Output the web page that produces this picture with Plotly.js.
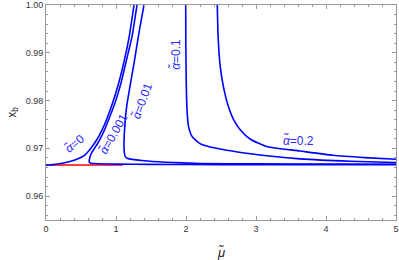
<!DOCTYPE html>
<html>
<head>
<meta charset="utf-8">
<script src="https://cdn.plot.ly/plotly-3.0.1.min.js"></script>
<style>html,body{margin:0;padding:0;background:#fff;}#chart{width:399px;height:260px;}</style>
</head>
<body>
<div id="chart"></div>
<script>
// ---- data ----
const mu_a0     = [0, 0.1, 0.23, 0.34, 0.44, 0.55, 0.63, 0.73, 0.80, 0.87, 0.94, 1.03, 1.12, 1.19, 1.257];
const xb_a0     = [0.96652, 0.9666, 0.96688, 0.96725, 0.9677, 0.96854, 0.9698, 0.9719, 0.9738, 0.9762, 0.9790, 0.9832, 0.9885, 0.9935, 1.0];

const mu_a0001  = [1.30, 1.23, 1.15, 1.07, 0.99, 0.914, 0.84, 0.771, 0.71, 0.653, 0.625, 0.619, 0.64, 0.7, 1.0, 1.5, 2, 3, 5];
const xb_a0001  = [1.0, 0.9935, 0.9885, 0.9836, 0.9797, 0.9767, 0.9740, 0.9719, 0.9704, 0.9691, 0.9680, 0.9671, 0.96690, 0.96682, 0.96670, 0.96664, 0.96661, 0.96659, 0.96658];

const mu_a001   = [1.40, 1.36, 1.32, 1.26, 1.20, 1.15, 1.125, 1.114, 1.12, 1.129, 1.15, 1.176, 1.4, 1.7, 2.2, 3, 4, 5];
const xb_a001   = [1.0, 0.9968, 0.9935, 0.9880, 0.9830, 0.9785, 0.9745, 0.9705, 0.9690, 0.96840, 0.96800, 0.96785, 0.9674, 0.9671, 0.96684, 0.96674, 0.96669, 0.96666];

const mu_a01    = [1.996, 1.997, 2.003, 2.014, 2.036, 2.086, 2.2, 2.271, 2.486, 2.714, 3.157, 3.629, 4.343, 5.0];
const xb_a01    = [1.0, 0.99271, 0.98438, 0.97813, 0.97458, 0.97250, 0.9710, 0.97060, 0.96985, 0.96930, 0.96844, 0.96780, 0.96729, 0.96702];

const mu_a02    = [2.447, 2.46, 2.49, 2.54, 2.60, 2.68, 2.78, 2.92, 3.15, 3.629, 4.1, 4.557, 5.0];
const xb_a02    = [1.0, 0.9930, 0.9870, 0.9825, 0.9790, 0.9760, 0.9738, 0.9719, 0.9704, 0.96944, 0.96854, 0.96806, 0.96771];

const mu_red    = [0, 1.1];
const xb_red    = [0.96652, 0.96652];

const labelText = ['<i>α̃</i>=0', '<i>α̃</i>=0.001', '<i>α̃</i>=0.01', '<i>α̃</i>=0.1', '<i>α̃</i>=0.2'];
const labelMu   = [0.40, 0.96, 1.37, 1.857, 3.60];
const labelXb   = [0.97104, 0.97310, 0.9800, 0.98979, 0.97167];
const labelRot  = [-40, -60, -70, -90, 0];

const xTicks = [0, 1, 2, 3, 4, 5];
const yTicks = [0.96, 0.97, 0.98, 0.99, 1.00];

// ---- chart ----
const FONT = 'Liberation Sans, Arial, sans-serif';
const BLUE = '#0000ff';
const lineStyle = {color: BLUE, width: 1.6, shape: 'spline', smoothing: 0.6};
const traces = [
  {x: mu_red, y: xb_red, mode: 'lines', line: {color: '#ff0000', width: 1.6}, hoverinfo: 'skip'},
  {x: mu_a0, y: xb_a0, mode: 'lines', line: lineStyle},
  {x: mu_a0001, y: xb_a0001, mode: 'lines', line: lineStyle},
  {x: mu_a001, y: xb_a001, mode: 'lines', line: lineStyle},
  {x: mu_a01, y: xb_a01, mode: 'lines', line: lineStyle},
  {x: mu_a02, y: xb_a02, mode: 'lines', line: lineStyle}
];

const annotations = labelText.map((t, i) => ({
  x: labelMu[i], y: labelXb[i], xref: 'x', yref: 'y', text: t, showarrow: false,
  textangle: labelRot[i], font: {family: FONT, size: 12, color: '#2a2aff'}
}));
// x-axis title placed as paper annotation for exact position
annotations.push({
  x: 0.5, y: -0.149, xref: 'paper', yref: 'paper', text: '<i>μ̃</i>', showarrow: false,
  xanchor: 'center', yanchor: 'middle', font: {family: FONT, size: 13, color: '#222'}
});

const axisCommon = {
  showgrid: false, zeroline: false, showline: true, linecolor: '#999', linewidth: 1,
  mirror: 'ticks', ticks: 'inside', ticklen: 4, tickcolor: '#999', tickwidth: 1,
  tickfont: {family: FONT, size: 9, color: '#333'},
  automargin: false
};

const layout = {
  width: 399, height: 260,
  margin: {l: 46, r: 3, t: 5, b: 40},
  paper_bgcolor: '#fff', plot_bgcolor: '#fff',
  showlegend: false,
  xaxis: Object.assign({}, axisCommon, {
    range: [0, 5], tickvals: xTicks, ticktext: xTicks.map(String),
    minor: {ticks: 'inside', dtick: 0.2, ticklen: 2, tickcolor: '#999'}
  }),
  yaxis: Object.assign({}, axisCommon, {
    range: [0.955, 1.0], tickvals: yTicks, ticktext: yTicks.map(v => v.toFixed(2)),
    minor: {ticks: 'inside', dtick: 0.002, ticklen: 2, tickcolor: '#999'},
    title: {text: 'x<sub>b</sub>', font: {family: FONT, size: 12, color: '#222'}, standoff: 6}
  }),
  annotations: annotations
};

Plotly.newPlot('chart', traces, layout, {staticPlot: true, displayModeBar: false});
</script>
</body>
</html>
